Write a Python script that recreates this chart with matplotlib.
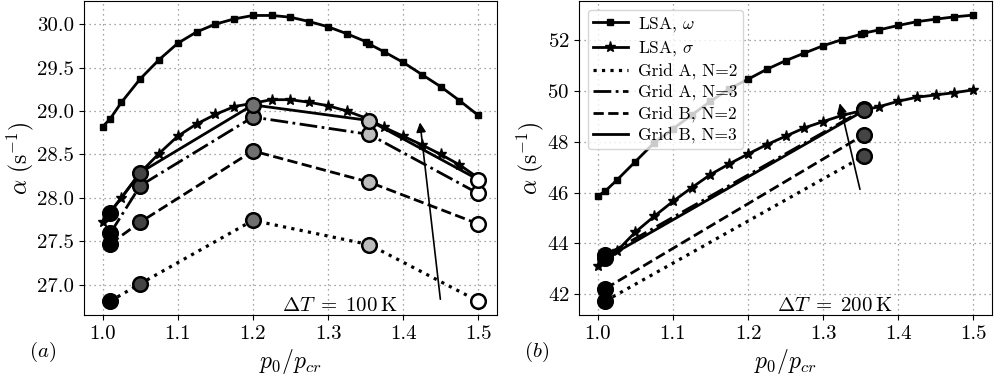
import numpy as np
import matplotlib
matplotlib.use("Agg")
import matplotlib.pyplot as plt

plt.rcParams["font.family"] = "serif"
plt.rcParams["font.serif"] = ["cmr10"]
plt.rcParams["mathtext.fontset"] = "cm"
plt.rcParams["axes.formatter.use_mathtext"] = True

# ---------------- data: Delta T = 100 K ----------------
lsa_x = [1.0, 1.01, 1.025, 1.05, 1.075, 1.1, 1.125, 1.15, 1.175, 1.2, 1.225, 1.25,
         1.275, 1.3, 1.325, 1.35, 1.355, 1.375, 1.4, 1.425, 1.45, 1.475, 1.5]
a_omega = [28.82, 28.91, 29.10, 29.37, 29.59, 29.78, 29.91, 30.00, 30.06, 30.10, 30.10, 30.08,
           30.03, 29.97, 29.89, 29.80, 29.77, 29.68, 29.56, 29.42, 29.28, 29.12, 28.95]
a_sigma = [27.72, 27.84, 28.00, 28.29, 28.51, 28.71, 28.85, 28.96, 29.05, 29.09, 29.13, 29.13,
           29.10, 29.06, 29.00, 28.92, 28.90, 28.81, 28.71, 28.61, 28.50, 28.38, 28.23]

a_grid_x = [1.01, 1.05, 1.2, 1.355, 1.5]
a_gridA_n2 = [26.81, 27.01, 27.74, 27.46, 26.81]
a_gridA_n3 = [27.59, 28.14, 28.93, 28.73, 28.05]
a_gridB_n2 = [27.47, 27.72, 28.54, 28.18, 27.70]
a_gridB_n3 = [27.83, 28.29, 29.07, 28.89, 28.21]
a_point_colors = ["#000000", "#444444", "#707070", "#bdbdbd", "#ffffff"]

# ---------------- data: Delta T = 200 K ----------------
b_omega = [45.86, 46.06, 46.48, 47.22, 47.96, 48.51, 49.06, 49.60, 50.09, 50.47, 50.86, 51.20,
           51.50, 51.79, 52.03, 52.24, 52.29, 52.42, 52.59, 52.74, 52.84, 52.93, 53.00]
b_sigma = [43.09, 43.40, 43.68, 44.44, 45.06, 45.65, 46.19, 46.71, 47.13, 47.52, 47.89, 48.22,
           48.55, 48.80, 49.04, 49.22, 49.26, 49.39, 49.60, 49.76, 49.85, 49.94, 50.05]

b_grid_x = [1.01, 1.355]
b_gridA_n2 = [41.72, 47.45]
b_gridA_n3 = [43.52, 49.28]
b_gridB_n2 = [42.21, 48.29]
b_gridB_n3 = [43.40, 49.24]
b_point_colors = ["#000000", "#444444"]

x_ticks = [1.0, 1.1, 1.2, 1.3, 1.4, 1.5]
a_yticks = [27.0, 27.5, 28.0, 28.5, 29.0, 29.5, 30.0]
b_yticks = [42, 44, 46, 48, 50, 52]

fig = plt.figure(figsize=(9.99, 3.8), dpi=100)
ax1 = fig.add_axes([0.084, 0.171, 0.4135, 0.826])
ax2 = fig.add_axes([0.5796, 0.171, 0.4134, 0.826])

LW = 2.0


def draw_panel(ax, omega, sigma, gx, gA2, gA3, gB2, gB3, colors):
    ax.plot(lsa_x, omega, "k-", marker="s", ms=4.5, lw=LW, label=r"LSA, $\omega$", zorder=3)
    ax.plot(lsa_x, sigma, "k-", marker="*", ms=8, lw=LW, label=r"LSA, $\sigma$", zorder=3)
    ax.plot(gx, gA2, "k:", lw=LW + 0.3, label="Grid A, N=2", zorder=3)
    ax.plot(gx, gA3, "k-.", lw=LW, label="Grid A, N=3", zorder=3)
    ax.plot(gx, gB2, "k--", lw=LW, label="Grid B, N=2", zorder=3)
    ax.plot(gx, gB3, "k-", lw=LW, label="Grid B, N=3", zorder=3)
    for series in (gA2, gA3, gB2, gB3):
        for xv, yv, c in zip(gx, series, colors):
            ax.plot([xv], [yv], "o", ms=10.5, mfc=c, mec="k", mew=1.8, zorder=4)
    ax.set_xticks(x_ticks)
    ax.xaxis.set_major_formatter(matplotlib.ticker.FormatStrFormatter("%.1f"))
    ax.grid(True, linestyle=(0, (1, 3)), color="#888888", lw=0.9)
    ax.set_axisbelow(True)
    ax.tick_params(labelsize=15)
    ax.set_xlabel(r"$p_0/p_{cr}$", fontsize=17, labelpad=3)
    ax.set_ylabel(r"$\alpha\ (\mathrm{s}^{-1})$", fontsize=17, labelpad=1)


draw_panel(ax1, a_omega, a_sigma, a_grid_x, a_gridA_n2, a_gridA_n3, a_gridB_n2,
           a_gridB_n3, a_point_colors)
draw_panel(ax2, b_omega, b_sigma, b_grid_x, b_gridA_n2, b_gridA_n3, b_gridB_n2,
           b_gridB_n3, b_point_colors)

ax1.set_yticks(a_yticks)
ax1.yaxis.set_major_formatter(matplotlib.ticker.FormatStrFormatter("%.1f"))
ax2.set_yticks(b_yticks)
ax1.set_xlim(0.975, 1.525)
ax2.set_xlim(0.975, 1.525)
ax1.set_ylim(26.65, 30.265)
ax2.set_ylim(41.17, 53.55)

# arrows showing grid refinement trend
ax1.annotate("", xy=(1.422, 28.90), xytext=(1.450, 26.80),
             arrowprops=dict(arrowstyle="-|>", color="k", lw=1.2, mutation_scale=14),
             zorder=5)
ax2.annotate("", xy=(1.3213, 49.63), xytext=(1.350, 46.02),
             arrowprops=dict(arrowstyle="-|>", color="k", lw=1.2, mutation_scale=14),
             zorder=5)

ax1.text(0.62, 0.0, r"$\Delta T\;=\;100\:\mathrm{K}$", transform=ax1.transAxes,
         ha="center", va="bottom", fontsize=15)
ax2.text(0.62, 0.0, r"$\Delta T\;=\;200\:\mathrm{K}$", transform=ax2.transAxes,
         ha="center", va="bottom", fontsize=15)

fig.text(43 / 999, 1 - 352 / 380, r"$(a)$", ha="center", va="center", fontsize=15)
fig.text(537 / 999, 1 - 352 / 380, r"$(b)$", ha="center", va="center", fontsize=15)

ax2.legend(loc="upper left", fontsize=12.5, numpoints=1, handlelength=2.0,
           handletextpad=0.6, labelspacing=0.3, borderpad=0.3)

fig.savefig("out.png", dpi=100)
